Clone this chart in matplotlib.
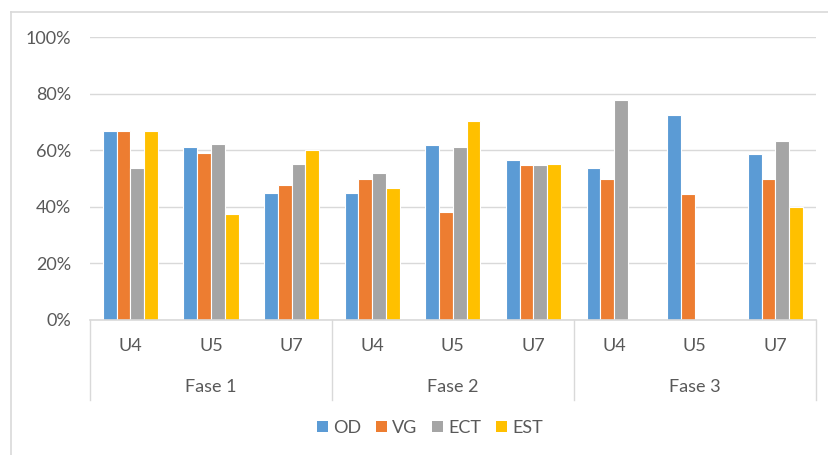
import numpy as np
import matplotlib
matplotlib.use("Agg")
import matplotlib.pyplot as plt
from matplotlib.patches import Patch
from matplotlib.lines import Line2D

phases = ["Fase 1", "Fase 2", "Fase 3"]
units = ["U4", "U5", "U7"]
series = ["OD", "VG", "ECT", "EST"]
colors = ["#5B9BD5", "#ED7D31", "#A5A5A5", "#FFC000"]

OD = [0.667, 0.611, 0.448, 0.448, 0.618, 0.565, 0.538, 0.726, 0.587]
VG = [0.667, 0.592, 0.476, 0.500, 0.383, 0.550, 0.500, 0.446, 0.500]
ECT = [0.538, 0.623, 0.553, 0.519, 0.611, 0.550, 0.777, np.nan, 0.634]
EST = [0.667, 0.376, 0.600, 0.468, 0.704, 0.553, np.nan, np.nan, 0.400]
yticks = [0, 0.2, 0.4, 0.6, 0.8, 1.0]
ytick_labels = ["0%", "20%", "40%", "60%", "80%", "100%"]

plt.rcParams['font.family'] = ['Lato', 'DejaVu Sans']
txt_color = "#595959"
grid_color = "#D9D9D9"

W, H = 829, 455
fig = plt.figure(figsize=(W / 100, H / 100), dpi=100)
ax_l, ax_r, ax_t, ax_b = 90, 815.7, 37.3, 320
ax = fig.add_axes([ax_l / W, (H - ax_b) / H, (ax_r - ax_l) / W, (ax_b - ax_t) / H])

n = len(OD)
x = np.arange(n)
bw = 0.171
for i, (vals, c) in enumerate(zip([OD, VG, ECT, EST], colors)):
    ax.bar(x + (i - 1.5) * bw, vals, width=bw, color=c, edgecolor="white",
           linewidth=0.8, zorder=3)

ax.set_xlim(-0.5, n - 0.5)
ax.set_ylim(0, 1.0)
ax.set_yticks(yticks)
ax.set_yticklabels(ytick_labels)
ax.tick_params(axis="y", length=0, pad=13.5, labelsize=13, labelcolor=txt_color)
ax.set_xticks([])
for s in ["top", "right", "left", "bottom"]:
    ax.spines[s].set_visible(False)
ax.grid(axis="y", color=grid_color, linewidth=1.0, zorder=0)
ax.set_axisbelow(True)
ax.axhline(0, color=grid_color, linewidth=1.2, zorder=4, clip_on=False)

# category axis (two levels)
trans = ax.get_xaxis_transform()
fig_bottom_ax = (H - ax_b) / H
ax_h = (ax_b - ax_t) / H
def px_to_axes_y(py):
    return ((H - py) / H - fig_bottom_ax) / ax_h

y_unit = px_to_axes_y(346)
y_phase = px_to_axes_y(387)
y_sep = px_to_axes_y(400)
for i in range(n):
    ax.text(x[i], y_unit, units[i % 3], transform=trans, ha="center", va="center",
            fontsize=13, color=txt_color)
for j, ph in enumerate(phases):
    ax.text(3 * j + 1, y_phase, ph, transform=trans, ha="center", va="center",
            fontsize=13, color=txt_color)
for b in [-0.5, 2.5, 5.5, 8.5]:
    ax.plot([b, b], [0, y_sep], transform=trans, color=grid_color, linewidth=1.0,
            clip_on=False)

# legend
handles = [Patch(facecolor=c, edgecolor="none") for c in colors]
fig.legend(handles, series, loc="center", bbox_to_anchor=(430 / W, (H - 428) / H),
           ncol=4, frameon=False, fontsize=13, handlelength=0.6, handleheight=0.6,
           handletextpad=0.3, columnspacing=0.8, labelcolor=txt_color)

# outer chart border (left and top visible)
fig.add_artist(Line2D([11 / W, 11 / W], [0, (H - 12) / H], color="#D9D9D9", linewidth=1.2,
                      transform=fig.transFigure))
fig.add_artist(Line2D([11 / W, 1], [(H - 12) / H, (H - 12) / H], color="#D9D9D9",
                      linewidth=1.2, transform=fig.transFigure))

fig.savefig("out.png", dpi=100)
